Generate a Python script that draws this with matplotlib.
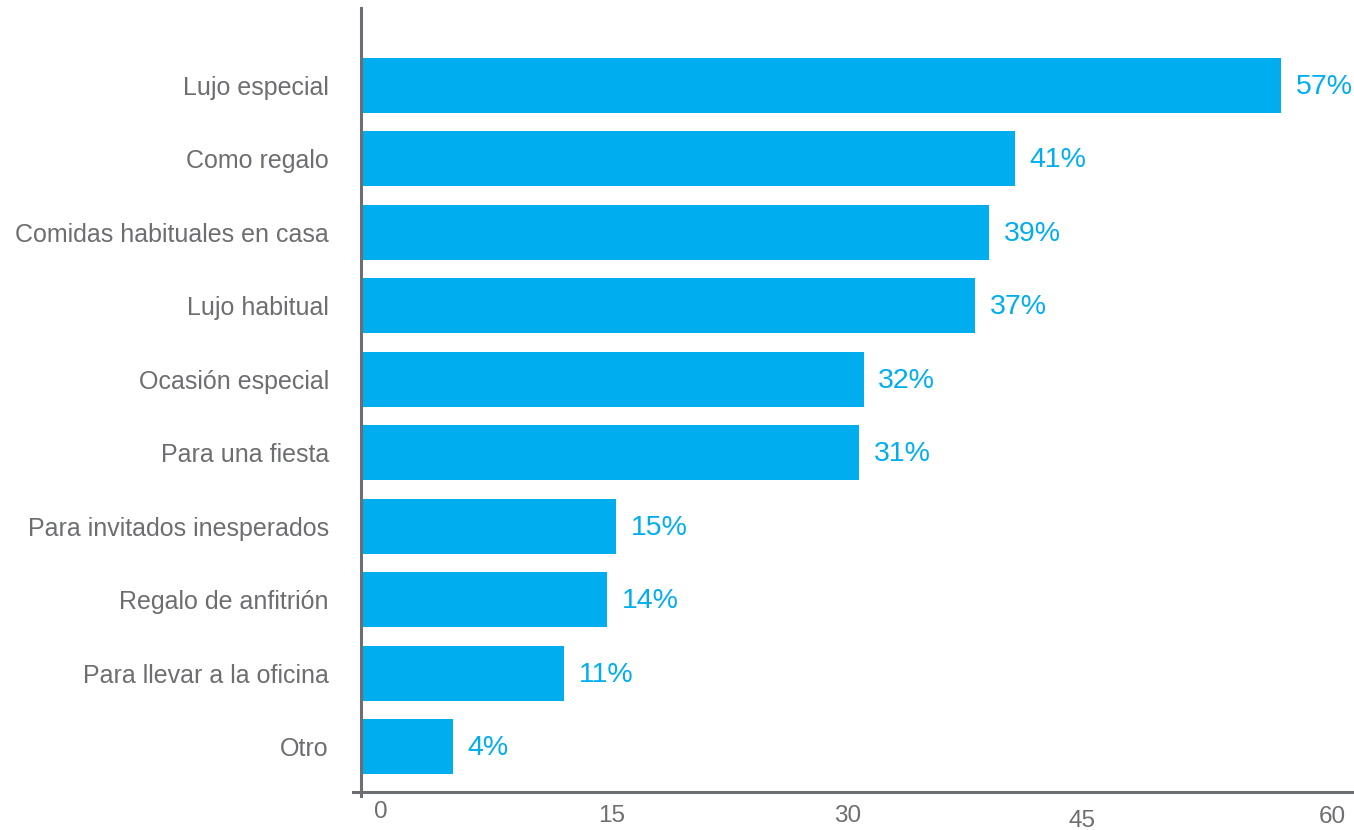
import matplotlib.pyplot as plt
import numpy as np

# Colors
COLORS = {
    'bar': '#00AEEF',
    'axis': '#6D6E71',
    'text': '#6D6E71',
}

categories = ['Lujo especial', 'Como regalo', 'Comidas habituales en casa',
              'Lujo habitual', 'Ocasión especial', 'Para una fiesta',
              'Para invitados inesperados', 'Regalo de anfitrión',
              'Para llevar a la oficina', 'Otro']
# bar lengths as drawn in the source (axis units), and their printed labels
bar_lengths = [58.0, 41.2, 39.6, 38.7, 31.7, 31.4, 16.1, 15.5, 12.8, 5.8]
value_labels = ['57%', '41%', '39%', '37%', '32%', '31%', '15%', '14%', '11%', '4%']
x_ticks = [0, 15, 30, 45, 60]


def make_chart():
    plt.rcParams['font.family'] = ['Liberation Sans', 'DejaVu Sans']
    fig = plt.figure(figsize=(13.54, 8.30), dpi=100)
    fig.patch.set_facecolor('white')
    ax = fig.add_axes([0.2607, 0.041, 0.7393, 0.9494])

    y = np.arange(len(categories))
    ax.barh(y, bar_lengths, height=0.75, color=COLORS['bar'], zorder=2)

    # value labels to the right of each bar
    for yi, length, lab in zip(y, bar_lengths, value_labels):
        ax.annotate(lab, xy=(length, yi), xytext=(10.5, -1), textcoords='offset points',
                    ha='left', va='center', fontsize=20.5, color=COLORS['bar'])

    ax.set_xlim(-0.5, 62.6)
    ax.set_ylim(9.67, -1.05)

    # spines
    for side in ['top', 'right']:
        ax.spines[side].set_visible(False)
    ax.spines['left'].set_position(('data', 0))
    ax.spines['bottom'].set_position(('data', 9.61))
    for side in ['left', 'bottom']:
        ax.spines[side].set_color(COLORS['axis'])
        ax.spines[side].set_linewidth(2.2)
        ax.spines[side].set_zorder(3)

    # category labels
    ax.set_yticks(y)
    ax.set_yticklabels(categories, fontsize=18, color=COLORS['text'])
    ax.tick_params(axis='y', length=0, pad=23)

    # x tick labels sit a bit off in the source, placed by hand
    ax.set_xticks([])
    dx = [20, 13, 11, 7, 20]
    dy = [20, 24, 24, 29, 25]
    for t, ox, oy in zip(x_ticks, dx, dy):
        ax.annotate(str(t), xy=(t, 9.61), xytext=(ox * 0.72, -oy * 0.72),
                    textcoords='offset points', ha='center', va='center',
                    fontsize=17.5, color=COLORS['text'], annotation_clip=False)

    plt.savefig('out.png', dpi=100, facecolor='white')
    plt.close()


if __name__ == "__main__":
    make_chart()
